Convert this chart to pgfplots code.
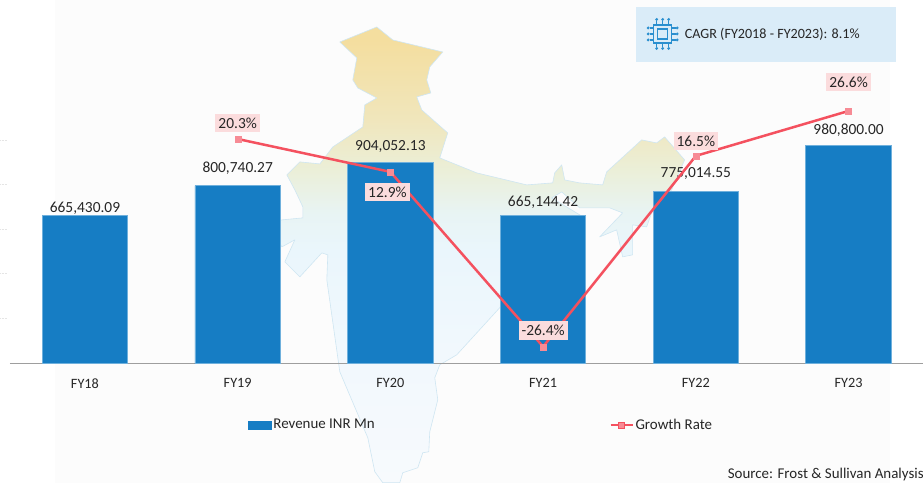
\documentclass[border=0pt]{standalone}
\usepackage{pgfplots}
\pgfplotsset{compat=1.18}
\usepackage{pgfplotstable}
\usepackage{fontspec}
\setmainfont{Carlito}
\definecolor{barblue}{HTML}{167DC4}
\definecolor{baredge}{HTML}{6FB0DC}
\definecolor{linered}{HTML}{F4515F}
\definecolor{mkpink}{HTML}{F78B95}
\definecolor{lblpink}{HTML}{FBDCDD}
\definecolor{txt}{HTML}{262626}
\definecolor{boxblue}{HTML}{DAECF8}
\definecolor{chip}{HTML}{2A8FCF}
\definecolor{ma}{HTML}{F4DE9F}
\definecolor{mb}{HTML}{F0E6BC}
\definecolor{mc}{HTML}{EBEFD8}
\definecolor{md}{HTML}{E8F4F4}
\definecolor{me}{HTML}{EAF6FC}
\definecolor{mf}{HTML}{F1F8FD}
\definecolor{mg}{HTML}{F7FAFD}
\definecolor{medge}{HTML}{CFE6F2}
\pgfdeclareverticalshading{india}{100bp}{%
color(0bp)=(mg);color(25bp)=(mg);color(39.6bp)=(mf);color(50.5bp)=(me);%
color(54.5bp)=(md);color(59.3bp)=(mc);color(64.8bp)=(mb);color(73.5bp)=(ma);color(100bp)=(ma)}
\pgfplotstableread{
x rev label
0 665430.09 665,430.09
1 800740.27 800,740.27
2 904052.13 904,052.13
3 665144.42 665,144.42
4 775014.55 775,014.55
5 980800.00 980,800.00
}\revtable
\pgfplotstableread{
x g label
1 20.3 20.3
2 12.9 12.9
3 -26.4 -26.4
4 16.5 16.5
5 26.6 26.6
}\growthtable
\begin{document}
\begin{tikzpicture}
\begin{scope}[x=1bp,y=-1bp]
\path[use as bounding box] (0,0) rectangle (923,483);
\fill[white] (0,0) rectangle (923,483);
\fill[black!1.2] (55,0) rectangle (890,483);
% faint remnants at the left edge
\foreach \yy in {140,184,229,273,318}{\draw[black!10,line width=0.6bp,densely dotted] (0,\yy)--(7,\yy);}
% map of India (decorative)
\draw[draw=medge,line width=0.6bp,shading=india,line join=round]
(340,42)--(377,27)--(393,40)--(443,52)--(430,67)--(427,80)--(431,93)--(417,97)--(422,110)--(448,133)--(440,158)
--(477,173)--(527,185)--(553,183)--(555,173)--(562,165)--(565,180)--(580,183)--(603,185)--(607,172)
--(642,140)--(657,143)--(665,137)--(685,160)--(672,190)--(653,210)--(647,227)--(633,225)--(633,255)--(623,257)
--(617,230)--(600,237)--(623,213)--(610,208)--(580,208)--(562,192)--(552,198)--(585,218)
--(530,275)--(457,355)--(440,365)--(435,378)--(438,400)--(430,432)--(429,452)--(423,453)--(418,468)--(403,473)--(400,483)
--(383,483)--(375,472)--(368,438)--(340,372)--(327,280)--(328,255)--(322,253)--(300,277)--(285,262)--(295,240)--(282,247)--(270,225)--(282,220)--(303,218)--(303,207)--(295,190)--(287,175)
--(300,162)--(320,164)--(333,147)--(363,127)--(365,105)--(377,98)--(358,88)--(353,80)--(357,58)--cycle;
\fill[boxblue] (636,7) rectangle (896,62);
% chip icon
\begin{scope}[shift={(663,34)},chip]
\draw[line width=1.6bp] (-9,-9) rectangle (9,9);
\draw[line width=1.2bp] (-5,-5) rectangle (5,5);
\foreach \a in {-6,0,6}{
\draw[line width=1.1bp] (\a,-9)--(\a,-13);\fill (\a,-14.5) circle (1.6bp);
\draw[line width=1.1bp] (\a,9)--(\a,13);\fill (\a,14.5) circle (1.6bp);
\draw[line width=1.1bp] (-9,\a)--(-13,\a);\fill (-14.5,\a) circle (1.6bp);
\draw[line width=1.1bp] (9,\a)--(13,\a);\fill (14.5,\a) circle (1.6bp);}
\end{scope}
\node[anchor=west,inner sep=0,text=txt,font=\fontsize{14.2}{16}\selectfont] at (685,34) {CAGR (FY2018 - FY2023): 8.1\%};
\node[anchor=west,inner sep=0,text=txt,font=\fontsize{15}{17}\selectfont] at (728,475) {Source: Frost \& Sullivan Analysis};
\end{scope}
\begin{axis}[
  at={(10bp,-364bp)},anchor=south west,
  scale only axis,width=913bp,height=364bp,
  xmin=-0.4908,xmax=5.484,
  ymin=0,ymax=1635000,
  axis y line=none,
  axis x line=bottom,
  x axis line style={draw=black!38,line width=1bp,-},
  xtick=data,
  xticklabels={FY18,FY19,FY20,FY21,FY22,FY23},
  tick style={draw=none},
  x tick label style={text=txt,font=\fontsize{14.3}{16}\selectfont,yshift=-9bp},
  clip=false,
  legend columns=2,
  legend style={at={(0.2607,-0.1676)},anchor=west,draw=none,fill=none,inner sep=0pt,
    font=\fontsize{15}{17}\selectfont,text=txt,
    /tikz/every even column/.append style={column sep=233bp}},
  legend cell align=left,
]
\addplot[ybar,bar width=85.5bp,fill=barblue,draw=baredge,line width=0.8bp,forget plot,
  point meta=explicit symbolic,
  nodes near coords={\pgfplotspointmeta},
  every node near coord/.append style={anchor=center,text=txt,font=\fontsize{15.5}{17}\selectfont,inner sep=0pt},
  coordinate style/.condition={\coordindex==0}{yshift=7bp},
  coordinate style/.condition={\coordindex==1}{yshift=17bp},
  coordinate style/.condition={\coordindex==2}{yshift=16bp},
  coordinate style/.condition={\coordindex==3}{yshift=14bp},
  coordinate style/.condition={\coordindex==4}{yshift=18bp},
  coordinate style/.condition={\coordindex==5}{yshift=15bp},
] table[x=x,y=rev,meta=label] {\revtable};
\addlegendimage{legend image code/.code={\fill[barblue] (0bp,-4bp) rectangle (23bp,4bp);}}
\addlegendentry{Revenue INR Mn}
\addlegendimage{legend image code/.code={\draw[linered,line width=2bp] (0bp,0bp)--(22bp,0bp);\fill[mkpink,draw=linered,line width=0.4bp] (8bp,-3bp) rectangle (14bp,3bp);}}
\addlegendentry{Growth Rate}
\end{axis}
\begin{axis}[
  at={(10bp,-364bp)},anchor=south west,
  scale only axis,width=913bp,height=364bp,
  xmin=-0.4908,xmax=5.484,
  ymin=-30.25,ymax=51.55,
  hide axis,
  clip=false,
]
\addplot[linered,line width=2.5bp,mark=square*,mark size=3bp,
  mark options={fill=mkpink,draw=mkpink,line width=0.3bp},
  point meta=explicit symbolic,
  nodes near coords={\pgfplotspointmeta\%},
  every node near coord/.append style={anchor=center,text=txt,fill=lblpink,
    font=\fontsize{15.5}{17}\selectfont,inner xsep=3bp,inner ysep=4bp},
  coordinate style/.condition={\coordindex==0}{yshift=16bp},
  coordinate style/.condition={\coordindex==1}{yshift=-20bp,xshift=-3bp},
  coordinate style/.condition={\coordindex==2}{yshift=16bp},
  coordinate style/.condition={\coordindex==3}{yshift=15bp},
  coordinate style/.condition={\coordindex==4}{yshift=29bp},
] table[x=x,y=g,meta=label] {\growthtable};
\end{axis}
\end{tikzpicture}
\end{document}
